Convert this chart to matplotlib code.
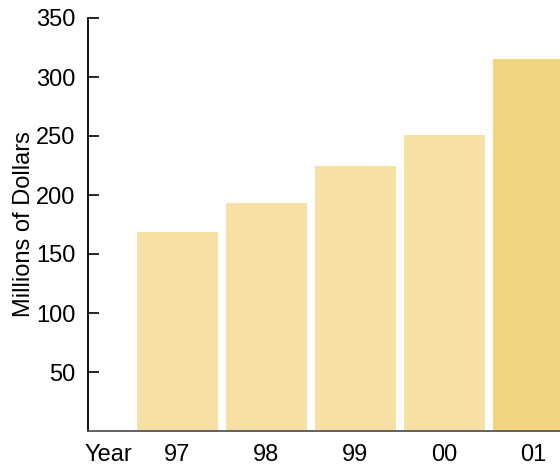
import matplotlib
matplotlib.use("Agg")
import matplotlib.pyplot as plt

years = ["97", "98", "99", "00", "01"]
values = [168.5, 193, 224.5, 250.5, 315]
colors = ["#F7E0A6", "#F7E0A6", "#F7E0A6", "#F7E0A6", "#F2D380"]

plt.rcParams['font.family'] = ['Liberation Sans', 'DejaVu Sans']

fig = plt.figure(figsize=(5.6, 4.65), dpi=100)
ax = fig.add_axes([88/560, 34/465, 1 - 88/560, (431-18)/465])

x = list(range(len(years)))
ax.bar(x, values, width=0.91, color=colors)

ax.set_xlim(-1.005, 4.3)
ax.set_ylim(0, 350)
ax.set_yticks([50, 100, 150, 200, 250, 300, 350])
# "Year" sits in the tick-label row, left of the first bar
ax.set_xticks([-0.78] + x)
ax.set_xticklabels(["Year"] + years)
ax.tick_params(axis='y', direction='in', length=8, width=1.2, labelsize=17, pad=9)
ax.tick_params(axis='x', length=0, labelsize=17, pad=9)

ax.spines['top'].set_visible(False)
ax.spines['right'].set_visible(False)
ax.spines['left'].set_linewidth(1.3)
ax.spines['bottom'].set_color('#555555')
ax.spines['bottom'].set_linewidth(1.3)

ax.set_ylabel("Millions of Dollars", fontsize=17, labelpad=1)

fig.savefig("out.png", dpi=100)
